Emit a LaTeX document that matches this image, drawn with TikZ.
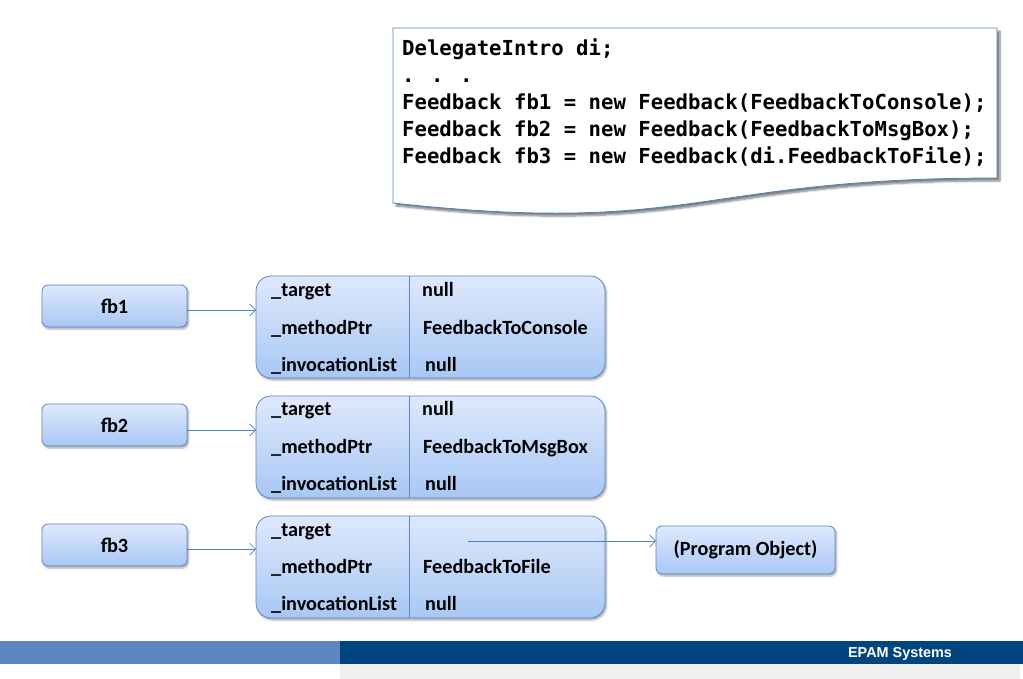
\documentclass[tikz,border=0pt]{standalone}
\usepackage{fontspec}
\setmainfont{Carlito}
\newfontfamily\codefont{DejaVu Sans Mono}
\newfontfamily\footfont{Liberation Sans}
\usetikzlibrary{arrows.meta,shadows.blur}
\definecolor{bord}{HTML}{5B86C5}
\definecolor{topc}{HTML}{DEE9FC}
\definecolor{botc}{HTML}{A8C7F4}
\definecolor{lineb}{HTML}{4F81BD}
\definecolor{footl}{HTML}{5F87BF}
\definecolor{footd}{HTML}{00457F}
\definecolor{footg}{HTML}{EFEFEF}
\tikzset{
  refbox/.style={draw=bord, line width=0.8pt, rounded corners=6pt, top color=topc, bottom color=botc,
     blur shadow={shadow xshift=1.5pt, shadow yshift=-2pt, shadow blur steps=5, shadow opacity=35}},
  structbox/.style={refbox, rounded corners=15pt},
  txt/.style={font=\fontsize{20.2}{22}\bfseries},
  lbl/.style={txt, anchor=base west, inner sep=0pt},
  conn/.style={draw=lineb, line width=0.7pt, -{Straight Barb[length=6pt,width=12pt]}},
  codeln/.style={anchor=base west, inner sep=0pt, font=\codefont\fontsize{20.65}{24}\bfseries},
}
\begin{document}
\begin{tikzpicture}[x=1pt,y=-1pt]
\useasboundingbox (0,0) rectangle (1023,679);
% code box
\draw[draw=lineb, line width=0.8pt, fill=white,
  blur shadow={shadow xshift=3pt, shadow yshift=-3pt, shadow blur steps=6, shadow opacity=50}]
  (393,28) -- (997,28) -- (997,178) .. controls (695,178) and (695,236) .. (393,203) -- cycle;
\node[codeln] (c1) at (402,56) {DelegateIntro di;};
\node[codeln] (c2) at (402,83) {. . .};
\node[codeln] (c3) at (402,110) {Feedback fb1 = new Feedback(FeedbackToConsole);};
\node[codeln] (c4) at (402,137) {Feedback fb2 = new Feedback(FeedbackToMsgBox);};
\node[codeln] (c5) at (402,164) {Feedback fb3 = new Feedback(di.FeedbackToFile);};

% fb boxes
\foreach \t in {285,404,524}{
  \path[refbox] (42,\t) rectangle (187,\t+42);
}
\node[txt] (f1) at (114.5,306) {fb1};
\node[txt] (f2) at (114.5,425) {fb2};
\node[txt] (f3) at (114.5,545) {fb3};
\coordinate (f1e) at (187,310);
\coordinate (f2e) at (187,430);
\coordinate (f3e) at (187,549);

% struct boxes
\foreach \t in {276,396,516}{
  \path[structbox] (256,\t) rectangle (605,\t+102);
  \draw[draw=bord, line width=0.8pt] (409,\t) -- (409,\t+102);
}
\coordinate (s1w) at (256,310);
\coordinate (s2w) at (256,430);
\coordinate (s3w) at (256,549);

\node[lbl] (t1) at (271,296) {\_target};
\node[lbl] (m1) at (271,334) {\_methodPtr};
\node[lbl] (i1) at (271,371) {\_invocationList};
\node[lbl] (tv1) at (422,296) {null};
\node[lbl] (mv1) at (423,334) {FeedbackToConsole};
\node[lbl] (iv1) at (425,371) {null};

\node[lbl] (t2) at (271,415) {\_target};
\node[lbl] (m2) at (271,453) {\_methodPtr};
\node[lbl] (i2) at (271,490) {\_invocationList};
\node[lbl] (tv2) at (422,415) {null};
\node[lbl] (mv2) at (423,453) {FeedbackToMsgBox};
\node[lbl] (iv2) at (425,490) {null};

\node[lbl] (t3) at (271,536) {\_target};
\node[lbl] (m3) at (271,573) {\_methodPtr};
\node[lbl] (i3) at (271,610) {\_invocationList};
\node[lbl] (mv3) at (423,573) {FeedbackToFile};
\node[lbl] (iv3) at (425,610) {null};
\coordinate (tv3) at (468,541);

% program object
\path[refbox] (656,526) rectangle (835,574);
\node[txt] (po) at (745.5,550) {(Program Object)};
\coordinate (pow) at (656,541);

% connectors
\draw[conn] (f1e) -- (s1w);
\draw[conn] (f2e) -- (s2w);
\draw[conn] (f3e) -- (s3w);
\draw[conn] (tv3) -- (pow);

% footer
\fill[footl] (0,641) rectangle (340,664);
\fill[footd] (340,641) rectangle (1023,664);
\fill[footg] (340,664) rectangle (1020,679);
\node[text=white, font=\footfont\fontsize{14.4}{16}\bfseries] (ft) at (900,654) {EPAM Systems};
\end{tikzpicture}
\end{document}
